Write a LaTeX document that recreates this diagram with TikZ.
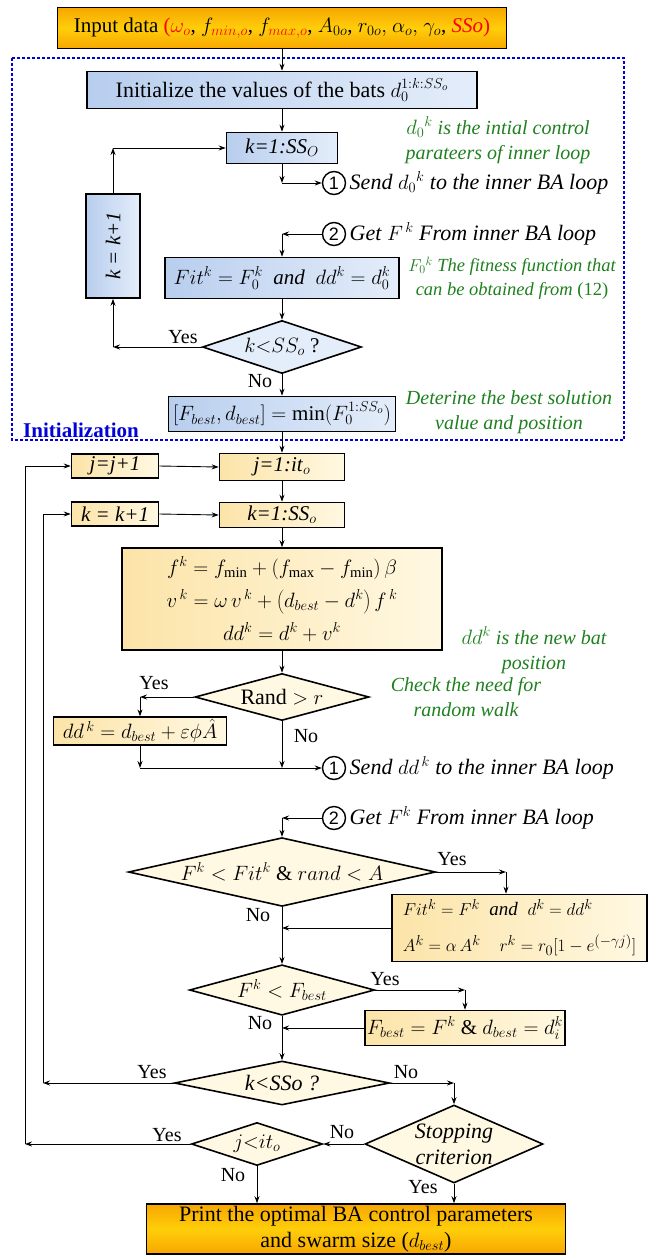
\documentclass[tikz,border=0pt]{standalone}
\usepackage{fontspec}
\setmainfont{Liberation Serif}
\newfontfamily\numfont{Liberation Sans}
\usetikzlibrary{shapes.geometric,arrows.meta,positioning}

\definecolor{bluetop}{RGB}{184,206,238}
\definecolor{bluebot}{RGB}{228,237,250}
\definecolor{creamA}{RGB}{252,228,168}
\definecolor{creamB}{RGB}{255,248,226}
\definecolor{ornA}{RGB}{247,166,0}
\definecolor{ornB}{RGB}{255,206,10}
\definecolor{notegreen}{RGB}{30,128,30}
\definecolor{initblue}{RGB}{0,0,215}

\tikzset{
  box/.style={draw, line width=1.6pt, inner sep=2pt, align=center},
  bluebox/.style={box, left color=bluetop, right color=bluebot},
  creambox/.style={box, left color=creamA, right color=creamB},
  inbox/.style={box, top color=ornA, bottom color=ornA, middle color=ornB},
  decide/.style={diamond, draw, line width=1.6pt, inner sep=0pt, aspect=3, fill=creamB},
  note/.style={text=notegreen, font=\fontsize{20}{25}\selectfont\itshape, align=center},
  marker/.style={circle, draw, line width=1.4pt, minimum size=23pt, inner sep=0pt, font=\fontsize{18}{18}\numfont},
  msg/.style={anchor=west, font=\fontsize{22}{25}\selectfont\itshape},
  big/.style={font=\fontsize{22}{26}\selectfont},
  flow/.style={-{Stealth[length=7pt,width=5pt]}, line width=0.9pt},
  lbl/.style={font=\fontsize{20}{20}\selectfont},
}

\begin{document}
\begin{tikzpicture}[x=1pt, y=-1pt, font=\fontsize{21}{25}\selectfont]
        \useasboundingbox (0,0) rectangle (648,1255);
        % input
        \node[inbox, minimum width=449pt, minimum height=41pt] (in) at (282,28)
          {Input data {\color{red}($\omega_o$}, $f_{\color{red}min,o}$, $f_{\color{red}max,o}$, $A_{0o}$, $r_{0o},$ $\alpha_o,$ $\gamma_o$, {\color{red}\textit{SSo})}};
        % initialization block
        \draw[initblue, line width=1.6pt, dash pattern=on 3pt off 2pt] (12,58) rectangle (624,440);
        \node[text=initblue, font=\fontsize{21}{21}\selectfont\bfseries] (initlbl) at (81,430) {Initialization};
        \node[bluebox, big, minimum width=390pt, minimum height=37pt] (init) at (282,90)
          {Initialize the values of the bats $d_0^{1:k:SS_o}$};
        \node[bluebox, minimum width=111pt, minimum height=31pt] (ka) at (282,148) {\textit{k=1:SS}$_O$};
        \node[note] (n1) at (498,140) {$d_0{}^k$ is the intial control\\parateers of inner loop};
        \node[marker] (c1a) at (334,183) {1};
        \node[msg] (t1a) at (c1a.east) {Send $d_0{}^k$ to the inner BA loop};
        \node[bluebox, rotate=90, minimum width=104pt, minimum height=54pt] (kadd) at (113,246) {\textit{k = k+1}};
        \node[marker] (c2a) at (334,234) {2};
        \node[msg] (t2a) at (c2a.east) {Get $F^{\,k}$ From inner BA loop};
        \node[bluebox, minimum width=234pt, minimum height=41pt] (fit) at (282,278)
          {$Fit^k = F_0^k$ \ \textit{and} \ $dd^k = d_0^k$};
        \node[note, font=\fontsize{18.5}{24}\selectfont\itshape] (n2) at (512,278) {$F_0{}^k$ The fitness function that\\can be obtained from {\upshape(12)}};
        \node[decide, fill=bluebot, minimum width=159pt, minimum height=53pt] (dka) at (282,347) {$k{<}SS_o$ ?};
        \node[lbl] at (183,337) {Yes};
        \node[lbl] at (260,381) {No};
        \node[bluebox, minimum width=227pt, minimum height=35pt] (best) at (282,414)
          {$[F_{best}, d_{best}] = \min(F_0^{1:SS_o})$};
        \node[note] (n3) at (509,412) {Deterine the best solution\\value and position};
        % arrows initialization
        \draw[flow] (in.south) -- (init.north);
        \draw[flow] (init.south) -- (ka.north);
        \draw[flow] (ka.south) -- (ka.south |- c1a);
        \draw[flow] (ka.south |- c1a) -- (c1a.west);
        \draw[flow] (kadd.east) -- (kadd.east |- ka);
        \draw[flow] (kadd.east |- ka) -- (ka.west);
        \draw[flow] (c2a.west) -- (c2a -| fit.north);
        \draw[flow] (c2a -| fit.north) -- (fit.north);
        \draw[flow] (fit.south) -- (dka.north);
        \draw[flow] (dka.west) -- (dka -| kadd.west);
        \draw[flow] (dka -| kadd.west) -- (kadd.west);
        \draw[flow] (dka.south) -- (best.north);
        % main loop
        \node[creambox, minimum width=125pt, minimum height=27pt] (ja) at (282,467) {\textit{j=1:it}$_o$};
        \node[creambox, minimum width=87pt, minimum height=24pt] (jinc) at (115,466) {\textit{j=j+1}};
        \node[creambox, minimum width=125pt, minimum height=25pt] (kb) at (282,515) {\textit{k=1:SS}$_o$};
        \node[creambox, minimum width=87pt, minimum height=24pt] (kinc) at (115,514) {\textit{k = k+1}};
        \node[creambox, minimum width=320pt, minimum height=102pt, font=\fontsize{21}{33}\selectfont] (form) at (282,599)
          {$f^k = f_{\min} + \left(f_{\max} - f_{\min}\right)\beta$\\
           $v^{\,k} = \omega\, v^{\,k} + \left(d_{best} - d^k\right) f^{\,k}$\\
           $dd^k = d^k + v^k$};
        \node[note] (n4) at (534,650) {$dd^k$ is the new bat\\position};
        \node[note] (n5) at (466,697) {Check the need for\\random walk};
        \node[decide, big, minimum width=174pt, minimum height=47pt] (rnd) at (282,697) {Rand $>$ $r$};
        \node[lbl] at (154,683) {Yes};
        \node[lbl] at (306,736) {No};
        \node[creambox, minimum width=173pt, minimum height=27pt, font=\fontsize{20}{24}\selectfont] (walk) at (140,731)
          {$dd^{\,k} = d_{best} + \varepsilon\phi\hat{A}$};
        \node[marker] (c1b) at (334,768) {1};
        \node[msg] (t1b) at (c1b.east) {Send $dd^{\,k}$ to the inner BA loop};
        \node[marker] (c2b) at (334,818) {2};
        \node[msg] (t2b) at (c2b.east) {Get $F^k$ From inner BA loop};
        \node[decide, aspect=4, minimum width=307pt, minimum height=63pt] (dfit) at (282,872)
          {$F^k < Fit^k$ \& $rand < A$};
        \node[lbl] at (452,859) {Yes};
        \node[lbl] at (258,915) {No};
        \node[creambox, align=left, minimum width=255pt, minimum height=67pt, font=\fontsize{19}{36}\selectfont] (upd) at (519.5,928)
          {$Fit^k = F^k$ \ \textit{and} \ $d^k = dd^k$\\
           $A^k = \alpha\,A^k\quad r^k = r_0[1-e^{(-\gamma j)}]$};
        \node[decide, minimum width=185pt, minimum height=45pt] (dbest) at (282,990) {$F^k < F_{best}$};
        \node[lbl] at (385,979) {Yes};
        \node[lbl] at (260,1023) {No};
        \node[creambox, minimum width=196pt, minimum height=35pt] (fb) at (465,1028)
          {$F_{best} = F^k$ \& $d_{best} = d_i^k$};
        \node[decide, big, minimum width=215pt, minimum height=44pt] (dkb) at (282,1083) {\textit{k<SSo ?}};
        \node[lbl] at (152,1072) {Yes};
        \node[lbl] at (406,1072) {No};
        \node[decide, big, aspect=2.3, minimum width=178pt, minimum height=78pt, align=center] (stop) at (454,1144)
          {\textit{Stopping}\\\textit{criterion}};
        \node[lbl] at (342,1132) {No};
        \node[lbl] at (423,1187) {Yes};
        \node[decide, minimum width=131pt, minimum height=43pt] (dj) at (257,1144) {$j{<}it_o$};
        \node[lbl] at (167,1135) {Yes};
        \node[lbl] at (233,1175) {No};
        \node[inbox, big, minimum width=419pt, minimum height=50pt] (out) at (356,1229)
          {Print the optimal BA control parameters\\and swarm size ($d_{best}$)};
        % loop corners
        \coordinate (kloop) at (43,1083);
        \coordinate (jloop) at (25,1144);
        \coordinate (updin) at ([xshift=-13.5pt]upd.north);
        % arrows main loop
        \draw[flow] (best.south) -- (ja.north);
        \draw[flow] (jinc.east) -- (ja.west);
        \draw[flow] (ja.south) -- (kb.north);
        \draw[flow] (kinc.east) -- (kb.west);
        \draw[flow] (kb.south) -- (form.north);
        \draw[flow] (form.south) -- (rnd.north);
        \draw[flow] (rnd.west) -- (rnd -| walk.north);
        \draw[flow] (rnd -| walk.north) -- (walk.north);
        \draw[flow] (walk.south) -- (walk.south |- c1b);
        \draw[flow] (rnd.south) -- (rnd.south |- c1b);
        \draw[flow] (walk.south |- c1b) -- (c1b.west);
        \draw[flow] (c2b.west) -- (c2b -| dfit.north);
        \draw[flow] (c2b -| dfit.north) -- (dfit.north);
        \draw[flow] (dfit.east) -- (dfit -| updin);
        \draw[flow] (dfit -| updin) -- (updin);
        \draw[flow] (upd.west) -- (upd.west -| dfit.south);
        \draw[flow] (dfit.south) -- (dbest.north);
        \draw[flow] (dbest.east) -- (dbest -| fb.north);
        \draw[flow] (dbest -| fb.north) -- (fb.north);
        \draw[flow] (fb.west) -- (fb.west -| dbest.south);
        \draw[flow] (dbest.south) -- (dkb.north);
        \draw[flow] (dkb.west) -- (kloop);
        \draw[flow] (kloop) |- (kinc.west);
        \draw[flow] (dkb.east) -- (dkb -| stop.north);
        \draw[flow] (dkb -| stop.north) -- (stop.north);
        \draw[flow] (stop.west) -- (dj.east);
        \draw[flow] (dj.west) -- (jloop);
        \draw[flow] (jloop) |- (jinc.west);
        \draw[flow] (dj.south) -- (dj.south |- out.north);
        \draw[flow] (stop.south) -- (stop.south |- out.north);
\end{tikzpicture}
\end{document}
